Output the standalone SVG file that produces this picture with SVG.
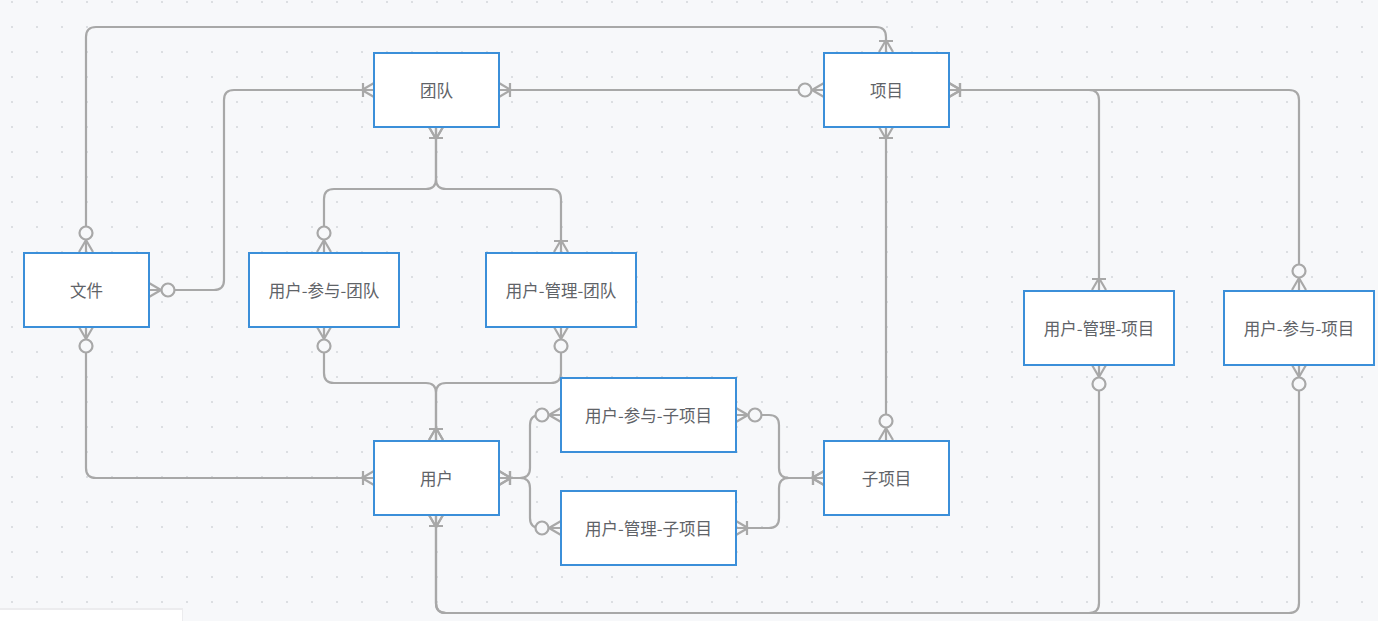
<svg xmlns="http://www.w3.org/2000/svg" width="1378" height="621" viewBox="0 0 1378 621">
<style>
.node rect{fill:#ffffff;stroke:#3b8fd9;stroke-width:2}
.node text{font-family:"Noto Sans CJK SC","Noto Sans",sans-serif;font-size:16.5px;fill:#5f6368;text-anchor:middle;dominant-baseline:central}
.conn path{fill:none;stroke:#a8a8a8;stroke-width:2.2}
</style>
<defs>
<pattern id="dots" x="0" y="0" width="25" height="25" patternUnits="userSpaceOnUse">
<circle cx="12" cy="2" r="1.1" fill="#d6d8dc"/>
</pattern>
<marker id="oneMany" markerUnits="userSpaceOnUse" viewBox="-30 -10 32 20" refX="0" refY="0" markerWidth="32" markerHeight="20" orient="auto-start-reverse">
<path d="M-12,0 L0,-7 M-12,0 L0,7 M-11,-7 V7" fill="none" stroke="#a8a8a8" stroke-width="2.2"/>
</marker>
<marker id="zeroMany" markerUnits="userSpaceOnUse" viewBox="-30 -10 32 20" refX="0" refY="0" markerWidth="32" markerHeight="20" orient="auto-start-reverse">
<path d="M-12,0 L0,-7 M-12,0 L0,7" fill="none" stroke="#a8a8a8" stroke-width="2.2"/>
<circle cx="-19" cy="0" r="6.5" fill="#f7f8fa" stroke="#a8a8a8" stroke-width="2.2"/>
</marker>
</defs>
<rect width="1378" height="621" fill="#f7f8fa"/>
<rect width="1378" height="621" fill="url(#dots)"/>
<rect x="0" y="608" width="183" height="13" fill="#ececee"/>
<rect x="0" y="610" width="182" height="11" fill="#ffffff"/>

<g id="connectors" class="conn">
<path d="M86,252 V37 Q86,27 96,27 H876 Q886,27 886,37 V52" marker-start="url(#zeroMany)" marker-end="url(#oneMany)"/>
<path d="M149,290 H214 Q224,290 224,280 V100 Q224,90 234,90 H374" marker-start="url(#zeroMany)" marker-end="url(#oneMany)"/>
<path d="M499,90 H824" marker-start="url(#oneMany)" marker-end="url(#zeroMany)"/>
<path d="M436,127 V179 Q436,189 426,189 H334 Q324,189 324,199 V252" marker-start="url(#oneMany)" marker-end="url(#zeroMany)"/>
<path d="M436,127 V179 Q436,189 446,189 H551 Q561,189 561,199 V252" marker-start="url(#oneMany)" marker-end="url(#oneMany)"/>
<path d="M324,327 V373 Q324,383 334,383 H426 Q436,383 436,393 V440" marker-start="url(#zeroMany)" marker-end="url(#oneMany)"/>
<path d="M561,327 V373 Q561,383 551,383 H446 Q436,383 436,393 V440" marker-start="url(#zeroMany)" marker-end="url(#oneMany)"/>
<path d="M86,327 V468 Q86,478 96,478 H374" marker-start="url(#zeroMany)" marker-end="url(#oneMany)"/>
<path d="M499,478 H520 Q530,478 530,468 V425 Q530,415 540,415 H561" marker-start="url(#oneMany)" marker-end="url(#zeroMany)"/>
<path d="M499,478 H520 Q530,478 530,488 V518 Q530,528 540,528 H561" marker-start="url(#oneMany)" marker-end="url(#zeroMany)"/>
<path d="M736,415 H769 Q779,415 779,425 V468 Q779,478 789,478 H824" marker-start="url(#zeroMany)" marker-end="url(#oneMany)"/>
<path d="M736,528 H769 Q779,528 779,518 V488 Q779,478 789,478 H824" marker-start="url(#oneMany)" marker-end="url(#oneMany)"/>
<path d="M886,127 V440" marker-start="url(#oneMany)" marker-end="url(#zeroMany)"/>
<path d="M949,90 H1089 Q1099,90 1099,100 V290" marker-start="url(#oneMany)" marker-end="url(#oneMany)"/>
<path d="M949,90 H1289 Q1299,90 1299,100 V290" marker-start="url(#oneMany)" marker-end="url(#zeroMany)"/>
<path d="M436,515 V603 Q436,613 446,613 H1089 Q1099,613 1099,603 V365" marker-start="url(#oneMany)" marker-end="url(#zeroMany)"/>
<path d="M436,515 V603 Q436,613 446,613 H1289 Q1299,613 1299,603 V365" marker-start="url(#oneMany)" marker-end="url(#zeroMany)"/>
</g>

<g id="team" class="node"><rect x="374" y="53" width="125" height="74"/><text x="436.5" y="90">团队</text></g>
<g id="project" class="node"><rect x="824" y="53" width="125" height="74"/><text x="886.5" y="90">项目</text></g>
<g id="file" class="node"><rect x="24" y="253" width="125" height="74"/><text x="86.5" y="290">文件</text></g>
<g id="user-join-team" class="node"><rect x="249" y="253" width="150" height="74"/><text x="324" y="290">用户-参与-团队</text></g>
<g id="user-manage-team" class="node"><rect x="486" y="253" width="150" height="74"/><text x="561" y="290">用户-管理-团队</text></g>
<g id="user-manage-project" class="node"><rect x="1024" y="291" width="150" height="74"/><text x="1099" y="328">用户-管理-项目</text></g>
<g id="user-join-project" class="node"><rect x="1224" y="291" width="150" height="74"/><text x="1299" y="328">用户-参与-项目</text></g>
<g id="user" class="node"><rect x="374" y="441" width="125" height="74"/><text x="436.5" y="478">用户</text></g>
<g id="user-join-subproject" class="node"><rect x="561" y="378" width="175" height="74"/><text x="648.5" y="415">用户-参与-子项目</text></g>
<g id="user-manage-subproject" class="node"><rect x="561" y="491" width="175" height="74"/><text x="648.5" y="528">用户-管理-子项目</text></g>
<g id="subproject" class="node"><rect x="824" y="441" width="125" height="74"/><text x="886.5" y="478">子项目</text></g>
</svg>
